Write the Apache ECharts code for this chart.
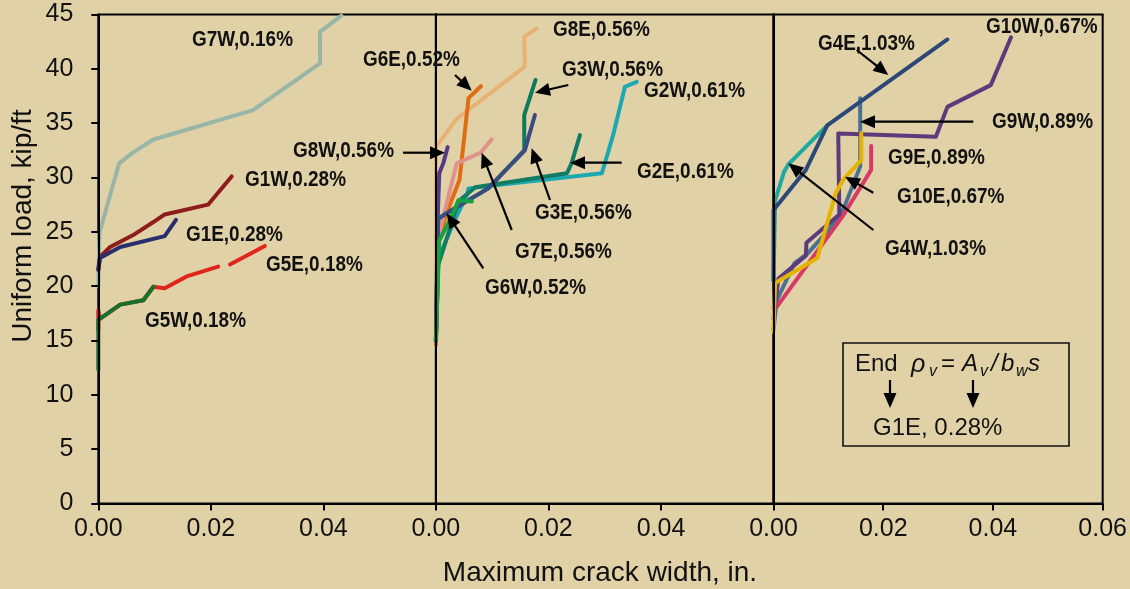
<!DOCTYPE html>
<html><head><meta charset="utf-8">
<script src="https://cdn.jsdelivr.net/npm/echarts@6/dist/echarts.min.js"></script>
<style>html,body{margin:0;padding:0;background:#e0d1a7;} #c{width:1130px;height:589px;}</style>
</head><body><div id="c"></div>
<script>
// ---------- DATA (crack width in., uniform load kip/ft) ----------
const yTicks = [0, 5, 10, 15, 20, 25, 30, 35, 40, 45];
const xTickLabels = ['0.00', '0.02', '0.04', '0.06'];
// Panel 1
const G7W = [[0,20.0],[0.0002,24.9],[0.0037,31.3],[0.0059,32.2],[0.0098,33.5],[0.0275,36.2],[0.0394,40.5],[0.0394,43.4],[0.0432,44.9]];
const G1W = [[0,21.5],[0.0003,22.7],[0.0021,23.6],[0.0062,24.7],[0.0098,25.9],[0.0118,26.6],[0.0195,27.5],[0.0237,30.1]];
const G1E = [[0,21.5],[0.0003,22.6],[0.0039,23.6],[0.0118,24.6],[0.0138,26.1]];
const G5E = [[0,16.0],[0,17.8],[0.0003,17.0],[0.0039,18.3],[0.0080,18.7],[0.0098,19.95],[0.0118,19.8],[0.0157,20.9],[0.0213,21.8],['-','-'],[0.0234,22.0],[0.0296,23.7]];
const G5W = [[0,12.3],[0,16.9],[0.0039,18.3],[0.0080,18.7],[0.0098,19.95]];
// Panel 2
const G8E = [[0,14.6],[0,32.8],[0.0004,33.1],[0.0037,35.4],[0.0158,40.2],[0.0157,42.96],[0.0179,43.7]];
const G6E = [[0,14.6],[0.0005,24.2],[0.0019,26.7],[0.0042,29.8],[0.0058,37.3],[0.0080,38.4]];
const G8W = [[0,15],[0.0003,26.0],[0.0006,30.4],[0.0013,31.3],[0.0021,32.8]];
const G7E = [[0,15],[0.0004,24.5],[0.0022,28.2],[0.0037,31.3],[0.0080,32.3],[0.0099,33.5]];
const G3W = [[0,15],[0.0004,26.2],[0.0022,26.8],[0.0093,29.0],[0.0157,32.5],[0.0157,35.75],[0.0177,38.97]];
const G3E = [[0,15],[0.0004,26.2],[0.0022,26.8],[0.0064,28.1],[0.0093,29.0],[0.0158,32.5],[0.0176,35.75]];
const G2W = [[0,15],[0.0004,22.5],[0.0033,26.0],[0.0055,28.4],[0.0058,29.0],[0.0295,30.4],[0.0315,33.9],[0.0336,38.35],[0.0357,38.8]];
const G2E = [[0,15],[0.0004,21.9],[0.0040,27.8],[0.0070,29.1],[0.0233,30.4],[0.0241,31.3],[0.0256,33.9]];
const G6W = [[0,15],[0.0006,24.2],[0.0025,26.1],[0.0037,27.5],[0.0040,27.9],[0.0064,27.8]];
// Panel 3
const G9W = [[0,16],[0.0006,18.7],[0.0038,22.1],[0.0062,23.0],[0.0122,26.4],[0.0158,31.0],[0.0158,37.3]];
const G9E = [[0,18.0],[0.0006,18.1],[0.0127,26.5],[0.0178,30.7],[0.0178,32.9]];
const G10W = [[0,17],[0.0009,20.7],[0.0059,22.8],[0.0060,24.0],[0.0120,26.6],[0.0118,34.05],[0.0296,33.75],[0.0317,36.5],[0.0396,38.5],[0.0433,42.9]];
const G10E = [[0,15.8],[0.0003,20.3],[0.0080,22.6],[0.0113,28.5],[0.0127,29.8],[0.0160,31.6],[0.0160,34.1]];
const G4W = [[0,20.5],[0.0003,27.9],[0.0019,30.5],[0.0027,31.2],[0.0098,34.8]];
const G4E = [[0,20.5],[0,27.0],[0.0059,30.7],[0.0098,34.8],[0.0317,42.7]];

const panels = [
  [['G7W',G7W,'#98b5a7'],['G1W',G1W,'#8e1c1c'],['G1E',G1E,'#2a2e6e'],['G5E',G5E,'#e0261c'],['G5W',G5W,'#17702b']],
  [['G8E',G8E,'#e8b274'],['G6E',G6E,'#e06c14'],['G7E',G7E,'#e0918a'],['G8W',G8W,'#563b82'],['G2W',G2W,'#1ca8b0'],['G2E',G2E,'#0f7d64'],['G3W',G3W,'#0e7a5c'],['G3E',G3E,'#3b4d80'],['G6W',G6W,'#18a040']],
  [['G9W',G9W,'#4a7191'],['G9E',G9E,'#d83a68'],['G10W',G10W,'#5b3b7b'],['G10E',G10E,'#e6b300'],['G4W',G4W,'#20a8a0'],['G4E',G4E,'#2c4878']]
];

// ---------- ANNOTATIONS (pixel layout) ----------
const labels = [
  ['G7W,0.16%',192,40],['G1W,0.28%',245,180],['G1E,0.28%',186,235],['G5E,0.18%',266,265],['G5W,0.18%',145,321],
  ['G8W,0.56%',293,151],['G6E,0.52%',363,60],['G8E,0.56%',553,30],['G3W,0.56%',562,70],['G2W,0.61%',644,91],
  ['G2E,0.61%',637,172],['G3E,0.56%',535,213],['G7E,0.56%',515,252],['G6W,0.52%',485,288],
  ['G4E,1.03%',818,44],['G10W,0.67%',986,27],['G9W,0.89%',992,122],['G9E,0.89%',888,158],['G10E,0.67%',897,197],['G4W,1.03%',885,249]
];
const arrows = [
  [403,152.7,445,152.7],[455,75,471.7,90.7],[568.3,85,535,92.7],[621.7,162.7,570,162.7],[550,200,531.7,148.3],
  [511.7,230,481.7,152.7],[483.3,268.3,446.7,213.3],[856.7,50,888.3,75],[973.3,121.7,860,121.7],
  [873.3,192.7,845,176.7],[873.3,230,788.3,163.3]
];

const PL = 98.3, PT = 14.5, PW = 337.6, PH = 489;
const REG = "'Liberation Sans',Arial,sans-serif";
const ANN_FONT = "bold 22px " + REG;

function arrowEls(a) {
  const [x1,y1,x2,y2] = a;
  const dx = x2-x1, dy = y2-y1, L = Math.hypot(dx,dy), ux = dx/L, uy = dy/L;
  const hl = 15, hw = 6.5;
  const bx = x2-ux*hl, by = y2-uy*hl;
  return [
    {type:'line', z:20, shape:{x1:x1,y1:y1,x2:bx+ux*2,y2:by+uy*2}, style:{stroke:'#000', lineWidth:2.2}},
    {type:'polygon', z:20, shape:{points:[[x2,y2],[bx-uy*hw,by+ux*hw],[bx+uy*hw,by-ux*hw]]}, style:{fill:'#000'}}
  ];
}

const graphic = [];
labels.forEach(l => graphic.push({type:'text', z:20, x:l[1], y:l[2], scaleX:0.86, style:{text:l[0], x:0, y:0, font:ANN_FONT, fill:'#111', textAlign:'left', textVerticalAlign:'middle', align:'left', verticalAlign:'middle'}}));
arrows.forEach(a => graphic.push(...arrowEls(a)));
// axis titles
graphic.push({type:'text', z:20, rotation:Math.PI/2, x:23, y:226, style:{text:'Uniform load, kip/ft', x:0, y:0, font:"28px "+REG, fill:'#111', textAlign:'center', textVerticalAlign:'middle', align:'center', verticalAlign:'middle'}});
graphic.push({type:'text', z:20, style:{text:'Maximum crack width, in.', x:600, y:573, font:"28px "+REG, fill:'#111', textAlign:'center', textVerticalAlign:'middle', align:'center', verticalAlign:'middle'}});
// key box
graphic.push({type:'rect', z:20, shape:{x:843,y:343,width:226,height:103}, style:{fill:'none', stroke:'#111', lineWidth:1.6}});
const keyTxt = (t,x,y,f) => graphic.push({type:'text', z:20, style:{text:t, x:x, y:y, font:f, fill:'#111', textAlign:'left', textVerticalAlign:'middle', align:'left', verticalAlign:'middle'}});
keyTxt('End',855,364,"24px "+REG);
keyTxt('ρ',911,365,"italic 25px "+REG);
keyTxt('v',929,372,"italic 16px "+REG);
keyTxt('=',941,364,"24px "+REG);
keyTxt('A',962,364,"italic 24px "+REG);
keyTxt('v',980,372,"italic 16px "+REG);
keyTxt('/',991,364,"italic 24px "+REG);
keyTxt('b',1001,364,"italic 24px "+REG);
keyTxt('w',1016,372,"italic 16px "+REG);
keyTxt('s',1028,364,"italic 24px "+REG);
keyTxt('G1E, 0.28%',873,428,"24px "+REG);
[[890,380,890,408],[973,380,973,408]].forEach(a => graphic.push(...arrowEls(a)));

const grids = [], xAxes = [], yAxes = [], series = [];
for (let i = 0; i < 3; i++) {
  grids.push({left:PL+i*PW, top:PT, width:PW, height:PH, show:true, borderColor:'#000', borderWidth:2, backgroundColor:'transparent'});
  xAxes.push({gridIndex:i, type:'value', min:0, max:0.06, interval:0.02, z:5,
    axisLine:{show:true, onZero:false, lineStyle:{color:'#000', width:2}},
    axisTick:{show:true, inside:false, length:7, lineStyle:{color:'#000', width:2}},
    axisLabel:{show:true, showMinLabel:true, showMaxLabel:i===2, fontSize:25, color:'#111', margin:13, fontFamily:REG,
      formatter: v => xTickLabels[Math.round(v/0.02)]},
    splitLine:{show:false}});
  yAxes.push({gridIndex:i, type:'value', min:yTicks[0], max:yTicks[yTicks.length-1], interval:5, z:5,
    axisLine:{show:true, onZero:false, lineStyle:{color:'#000', width:2}},
    axisTick:{show:i===0, length:7, lineStyle:{color:'#000', width:2}},
    axisLabel:{show:i===0, fontSize:25, color:'#111', margin:25, fontFamily:REG},
    splitLine:{show:false}});
  panels[i].forEach(s => series.push({name:s[0], type:'line', xAxisIndex:i, yAxisIndex:i, data:s[1], symbol:'none', showSymbol:false,
    connectNulls:false, z:2, lineStyle:{color:s[2], width:4, cap:'round', join:'round'}, itemStyle:{color:s[2]}, animation:false, silent:true}));
}

const chart = echarts.init(document.getElementById('c'), null, {renderer:'canvas'});
chart.setOption({
  backgroundColor:'#e0d1a7', animation:false,
  grid:grids, xAxis:xAxes, yAxis:yAxes, series:series, graphic:{elements:graphic}
});
</script></body></html>
